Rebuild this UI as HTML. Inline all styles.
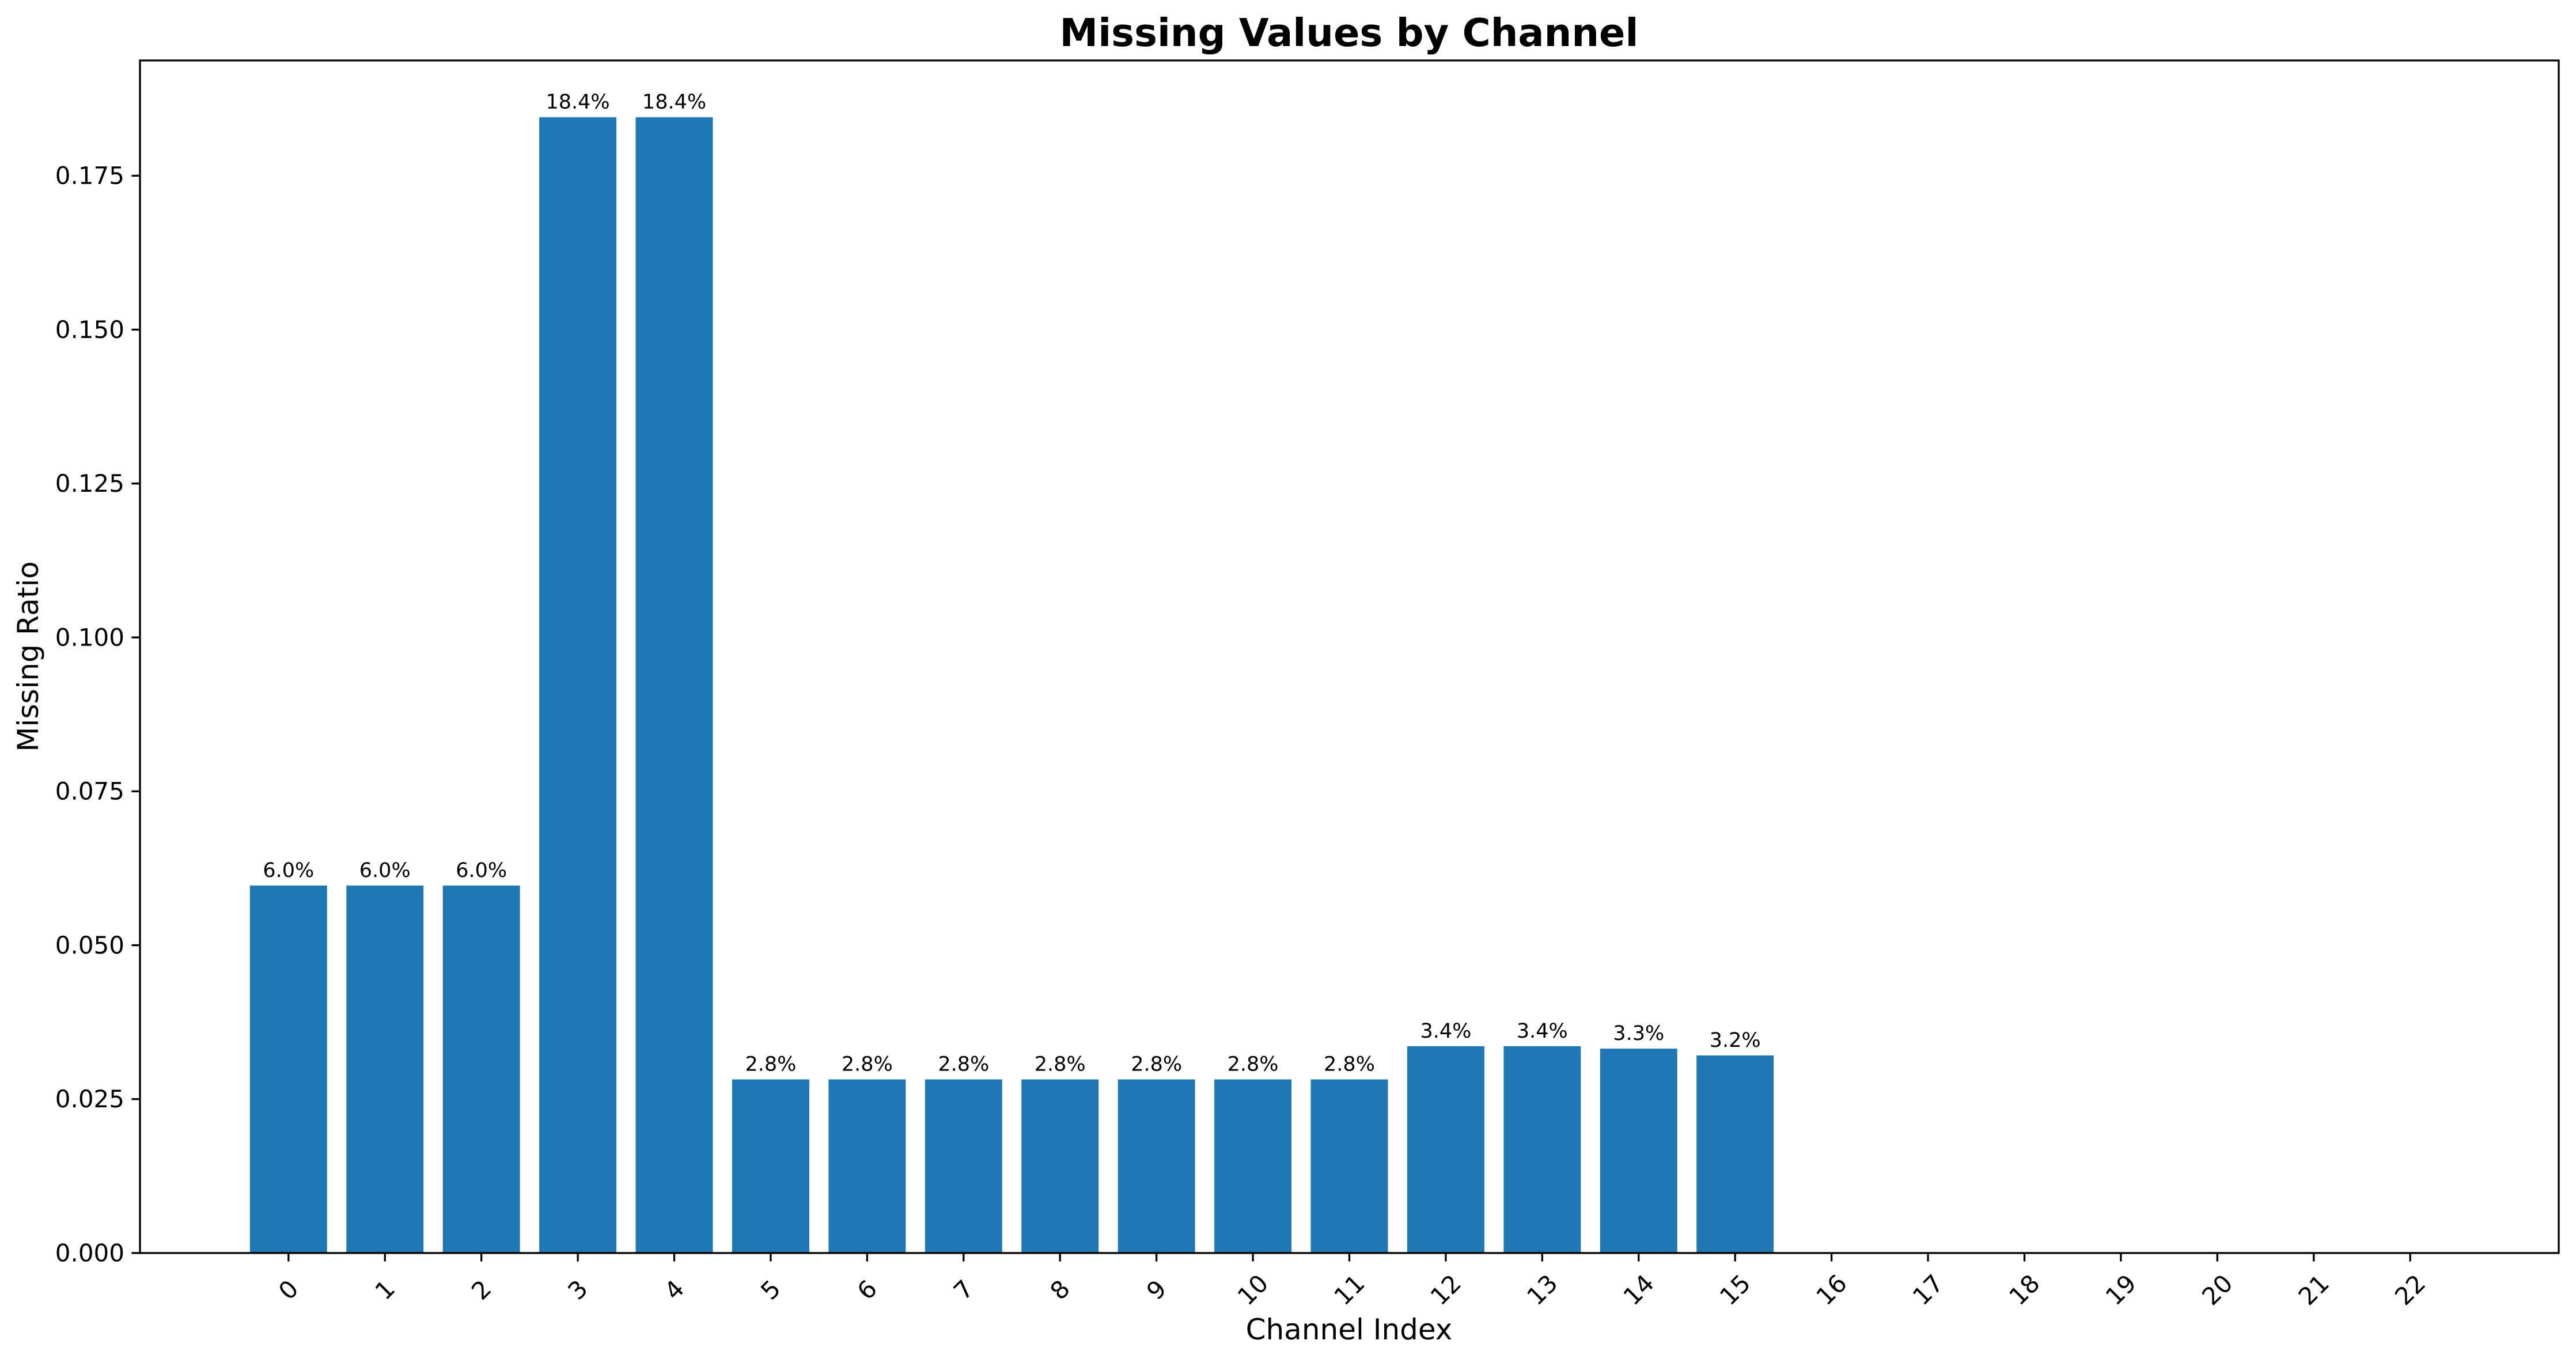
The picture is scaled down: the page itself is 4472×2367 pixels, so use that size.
<!DOCTYPE html>
<html><head><meta charset="utf-8"><style>
html,body{margin:0;padding:0;background:#fff;}
svg{display:block;font-family:"DejaVu Sans","Liberation Sans",sans-serif;}
</style></head><body>
<svg id="chart" width="4472" height="2367" viewBox="0 0 4472 2367" xmlns="http://www.w3.org/2000/svg">
<rect width="4472" height="2367" fill="#fff"/>
<text x="2342" y="80" text-anchor="middle" font-size="67" font-weight="bold">Missing Values by Channel</text>
<text x="2342" y="2326" text-anchor="middle" font-size="50">Channel Index</text>
<text transform="translate(66,1140) rotate(-90)" text-anchor="middle" font-size="50">Missing Ratio</text>
<g id="bars"></g><g id="xt"></g><g id="yt"></g>
<rect x="243" y="105" width="4199" height="2071" fill="none" stroke="#000" stroke-width="3.3"/>
</svg>
<script>
const categories = ["0","1","2","3","4","5","6","7","8","9","10","11","12","13","14","15","16","17","18","19","20","21","22"];
const values = [0.0597,0.0597,0.0597,0.1845,0.1845,0.0282,0.0282,0.0282,0.0282,0.0282,0.0282,0.0282,0.0336,0.0336,0.0332,0.0321,0,0,0,0,0,0,0];
const yTicks = [0,0.025,0.05,0.075,0.1,0.125,0.15,0.175];
const yTickLabels = ["0.000","0.025","0.050","0.075","0.100","0.125","0.150","0.175"];

const L=243,R=4442,T=105,B=2176;
const xmin=-0.4-0.05*(categories.length-1+0.8), xmax=categories.length-1+0.4+0.05*(categories.length-1+0.8);
const ymax=Math.max(...values)*1.05;
const xs=i=>L+(i-xmin)/(xmax-xmin)*(R-L);
const ys=v=>B-v/ymax*(B-T);
const NS="http://www.w3.org/2000/svg";
function mk(tag,attrs,parent,text){const e=document.createElementNS(NS,tag);for(const k in attrs)e.setAttribute(k,attrs[k]);if(text!==undefined)e.textContent=text;parent.appendChild(e);return e;}
const bw=xs(0.8)-xs(0);
const gb=document.getElementById('bars'), gx=document.getElementById('xt'), gy=document.getElementById('yt');
values.forEach((v,i)=>{
  const r=mk('rect',{x:xs(i)-bw/2,y:ys(v),width:bw,height:B-ys(v),fill:'#1f77b4'},gb);
  
  
  if(v>0){
    const t=mk('text',{x:xs(i),y:ys(v)-15,'text-anchor':'middle','font-size':'35'},gb,(v*100).toFixed(1)+'%');
    
    
  }
  const tk=mk('line',{x1:xs(i),x2:xs(i),y1:B,y2:B+14.6,stroke:'#000','stroke-width':3.3},gx);
  
  
  const lb=mk('text',{transform:`translate(${xs(i)},2240) rotate(-45)`,'text-anchor':'middle','dominant-baseline':'central','font-size':'42'},gx,categories[i]);
  
  
});
yTicks.forEach((v,i)=>{
  const tk=mk('line',{x1:L-14.6,x2:L,y1:ys(v),y2:ys(v),stroke:'#000','stroke-width':3.3},gy);
  
  
  const lb=mk('text',{x:L-27,y:ys(v),'text-anchor':'end','dominant-baseline':'central','font-size':'42'},gy,yTickLabels[i]);
  
  
});
</script>
</body></html>
